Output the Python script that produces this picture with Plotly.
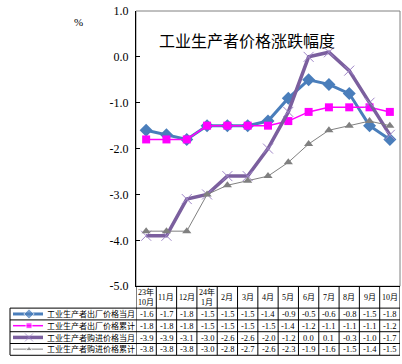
import plotly.graph_objects as go

categories = ["23年<br>10月", "11月", "12月", "24年<br>1月", "2月", "3月", "4月",
              "5月", "6月", "7月", "8月", "9月", "10月"]
series_names = ["工业生产者出厂价格当月", "工业生产者出厂价格累计",
                "工业生产者购进价格当月", "工业生产者购进价格累计"]
ppi_month = [-1.6, -1.7, -1.8, -1.5, -1.5, -1.5, -1.4, -0.9, -0.5, -0.6, -0.8, -1.5, -1.8]
ppi_cum = [-1.8, -1.8, -1.8, -1.5, -1.5, -1.5, -1.5, -1.4, -1.2, -1.1, -1.1, -1.1, -1.2]
pur_month = [-3.9, -3.9, -3.1, -3.0, -2.6, -2.6, -2.0, -1.2, 0.0, 0.1, -0.3, -1.0, -1.7]
pur_cum = [-3.8, -3.8, -3.8, -3.0, -2.8, -2.7, -2.6, -2.3, -1.9, -1.6, -1.5, -1.4, -1.5]
ytick_vals = [1, 0, -1, -2, -3, -4, -5]
ytick_text = ["1.0", "0.0", "-1.0", "-2.0", "-3.0", "-4.0", "-5.0"]
title_text = "工业生产者价格涨跌幅度"

all_series = [ppi_month, ppi_cum, pur_month, pur_cum]
styles = [
    dict(line=dict(color="#4A7EBB", width=3), marker=dict(symbol="diamond", size=10, color="#4A7EBB")),
    dict(line=dict(color="#FF00FF", width=1.5), marker=dict(symbol="square", size=8, color="#FF00FF")),
    dict(line=dict(color="#7B5F9E", width=3.5), marker=dict(symbol="x-thin", size=10, color="#9F86C8",
                                                           line=dict(width=1, color="#9F86C8"))),
    dict(line=dict(color="#808080", width=1), marker=dict(symbol="triangle-up", size=8, color="#808080")),
]

W, H = 402, 364
ml, mr, mt, mb = 10, 2, 11, 3
pw = W - ml - mr
ph = H - mt - mb
px = lambda p: (p - ml) / pw
py = lambda p: (H - mb - p) / ph

x_dom0 = px(136)
y_dom0 = py(291)
row_top = 313.3
row_h = 12

SERIF = "Liberation Serif, Noto Sans CJK SC, serif"

fig = go.Figure()
xs = list(range(len(categories)))
for name, vals, st in zip(series_names, all_series, styles):
    fig.add_trace(go.Scatter(x=xs, y=vals, mode="lines+markers", name=name,
                             line=st["line"], marker=st["marker"], cliponaxis=False,
                             xaxis="x", yaxis="y"))

# legend glyphs in table (second axis)
for i, st in enumerate(styles):
    fig.add_trace(go.Scatter(x=[3, 19, 33], y=[i + 0.5] * 3, mode="lines+markers",
                             line=dict(color=st["line"]["color"], width=st["line"]["width"]),
                             marker=dict(st["marker"], size=[0, st["marker"]["size"] - 2, 0]),
                             xaxis="x2", yaxis="y2", hoverinfo="skip", cliponaxis=False))

fig.update_layout(
    width=W, height=H, margin=dict(l=ml, r=mr, t=mt, b=mb),
    paper_bgcolor="white", plot_bgcolor="white", showlegend=False,
    xaxis=dict(domain=[x_dom0, 1], range=[-0.5, len(categories) - 0.5], showticklabels=False,
               showgrid=False, zeroline=False, showline=True, linecolor="black", linewidth=1,
               ticks="", fixedrange=True),
    yaxis=dict(domain=[y_dom0, 1], range=[-5, 1], tickvals=ytick_vals, ticktext=ytick_text,
               showgrid=False, zeroline=False, showline=True, linecolor="black", linewidth=1,
               ticks="inside", ticklen=4, tickcolor="black",
               tickfont=dict(family=SERIF, size=12, color="black"), ticklabelstandoff=4),
    xaxis2=dict(domain=[0, x_dom0], range=[0, 126], visible=False, fixedrange=True),
    yaxis2=dict(domain=[0, py(row_top)], range=[4, 0], visible=False, fixedrange=True),
)

shapes = []
shapes.append(dict(type="rect", xref="paper", yref="paper", x0=x_dom0, x1=1, y0=y_dom0, y1=1,
                   line=dict(color="#808080", width=1), layer="below"))
for r in range(len(series_names) + 1):
    yy = py(row_top + r * row_h)
    shapes.append(dict(type="line", xref="paper", yref="paper", x0=0, x1=1, y0=yy, y1=yy,
                       line=dict(color="black", width=1)))
for i in range(len(categories) + 1):
    xx = i - 0.5
    shapes.append(dict(type="line", xref="x", yref="paper", x0=xx, x1=xx, y0=0, y1=y_dom0,
                       line=dict(color="black", width=1)))
shapes.append(dict(type="line", xref="paper", yref="paper", x0=0, x1=0, y0=0, y1=py(row_top),
                   line=dict(color="black", width=1)))

annotations = []
annotations.append(dict(text=title_text, xref="paper", yref="paper", x=px(247), y=py(40),
                        xanchor="center", yanchor="middle",
                        showarrow=False, font=dict(family="Noto Sans CJK SC", size=16, color="black")))
annotations.append(dict(text="%", xref="paper", yref="paper", x=px(78), y=py(22),
                        xanchor="center", yanchor="middle",
                        showarrow=False, font=dict(family=SERIF, size=11, color="black")))
for i, c in enumerate(categories):
    annotations.append(dict(text=c, xref="x", yref="paper", x=i, y=py(302), showarrow=False,
                            xanchor="center", yanchor="middle",
                            font=dict(family=SERIF, size=8, color="black"), align="center"))
for r, (name, vals) in enumerate(zip(series_names, all_series)):
    yc = py(row_top + (r + 0.5) * row_h)
    annotations.append(dict(text=name, xref="paper", yref="paper", x=px(45), y=yc,
                            xanchor="left", yanchor="middle",
                            showarrow=False, font=dict(family=SERIF, size=8, color="black")))
    for i, v in enumerate(vals):
        annotations.append(dict(text=f"{v:.1f}", xref="x", yref="paper", x=i, y=yc, showarrow=False,
                                xanchor="center", yanchor="middle",
                                font=dict(family=SERIF, size=8.5, color="black")))

fig.update_layout(shapes=shapes, annotations=annotations)
fig.write_html("out.html", config={"displayModeBar": False},
               post_script="document.body.style.margin='0';document.body.style.overflow='hidden';")
